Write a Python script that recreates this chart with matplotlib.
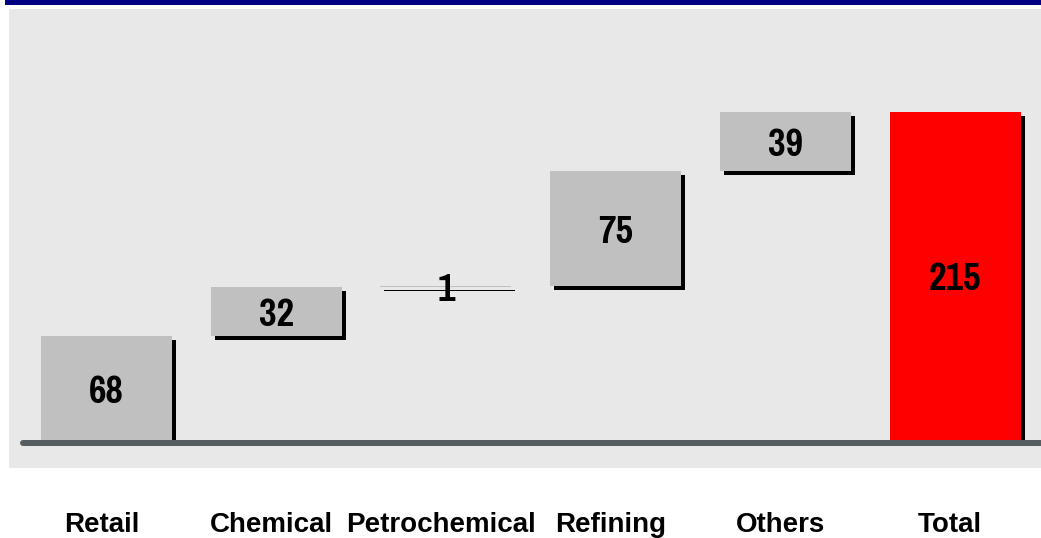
import matplotlib
matplotlib.use('Agg')
import matplotlib.pyplot as plt
from matplotlib.patches import Rectangle
import matplotlib.transforms as mtrans
from matplotlib import font_manager as fm

# ---- data ----
categories = ['Retail', 'Chemical', 'Petrochemical', 'Refining', 'Others', 'Total']
values = [68, 32, 1, 75, 39, 215]
is_total = [False, False, False, False, False, True]

# ---- derived waterfall bottoms ----
bottoms = []
running = 0
for v, t in zip(values, is_total):
    if t:
        bottoms.append(0)
    else:
        bottoms.append(running)
        running += v


# pick a narrow family that has a bold face
def _w(w):
    if isinstance(w, str):
        return {'bold': 700, 'semibold': 600, 'demibold': 600, 'heavy': 800,
                'black': 900, 'extra bold': 800}.get(w.lower(), 400)
    return int(w)


cands = ['Liberation Sans Narrow', 'Pragati Narrow', 'Arial Narrow', 'Archivo Narrow',
         'Roboto Condensed', 'IBM Plex Sans Condensed', 'Fira Sans Condensed',
         'Barlow Semi Condensed', 'Asap Condensed']
narrow_family = 'DejaVu Sans'
for c in cands:
    if any(f.name == c and _w(f.weight) >= 600 for f in fm.fontManager.ttflist):
        narrow_family = c
        break

W, H = 1041, 538
DPI = 100
fig = plt.figure(figsize=(W / DPI, H / DPI), dpi=DPI)
fig.patch.set_facecolor('white')


def px_rect(x0, y0, x1, y1, color):
    fig.patches.append(Rectangle((x0 / W, 1 - y1 / H), (x1 - x0) / W, (y1 - y0) / H,
                                 transform=fig.transFigure, facecolor=color,
                                 edgecolor='none', zorder=-5))


px_rect(5, 0, W, 5, '#000080')        # navy band
px_rect(9, 9, W, 468, '#e8e8e8')      # gray panel

ax = fig.add_axes([0, 0, 1, 1])
ax.set_zorder(2)
ax.set_facecolor('none')
ax.patch.set_visible(False)
ax.axis('off')

step = 169.7        # px per category
x0px = 106.5        # px of first category centre
ppu = 1.526         # px per value unit
base_px = 440       # baseline (from top)
ax.set_xlim(-x0px / step, (W - x0px) / step)
ax.set_ylim(-(H - base_px) / ppu, base_px / ppu)

x = list(range(len(categories)))
bar_w = 131 / step
colors = ['#ff0000' if t else '#c0c0c0' for t in is_total]

shadow_tr = ax.transData + mtrans.ScaledTranslation(4 / DPI, -4 / DPI, fig.dpi_scale_trans)
ax.bar(x, values, bottom=bottoms, width=bar_w, color='black', transform=shadow_tr,
       zorder=2, linewidth=0)
ax.bar(x, values, bottom=bottoms, width=bar_w, color=colors, zorder=3, linewidth=0)

# baseline
ax.plot([(23 - x0px) / step, (W + 10 - x0px) / step], [-3 / ppu, -3 / ppu],
        color='#555d60', linewidth=6 * 72 / DPI, solid_capstyle='round', zorder=4)

# value labels
val_tr = ax.transData + mtrans.ScaledTranslation(0, -14.5 / DPI, fig.dpi_scale_trans)
for xi, v, b in zip(x, values, bottoms):
    ax.text(xi, b + v / 2, str(v), ha='center', va='baseline', fontsize=30,
            fontweight='bold', family=[narrow_family, 'DejaVu Sans'],
            color='black', transform=val_tr, zorder=5)

# category labels
for xi, c in zip(x, categories):
    ax.text(xi - 0.03, (base_px - 532) / ppu, c, ha='center', va='baseline', fontsize=20,
            fontweight='bold', family=['Liberation Sans', 'Arimo', 'DejaVu Sans'], color='black')

fig.savefig('out.png', dpi=DPI, facecolor='white')
